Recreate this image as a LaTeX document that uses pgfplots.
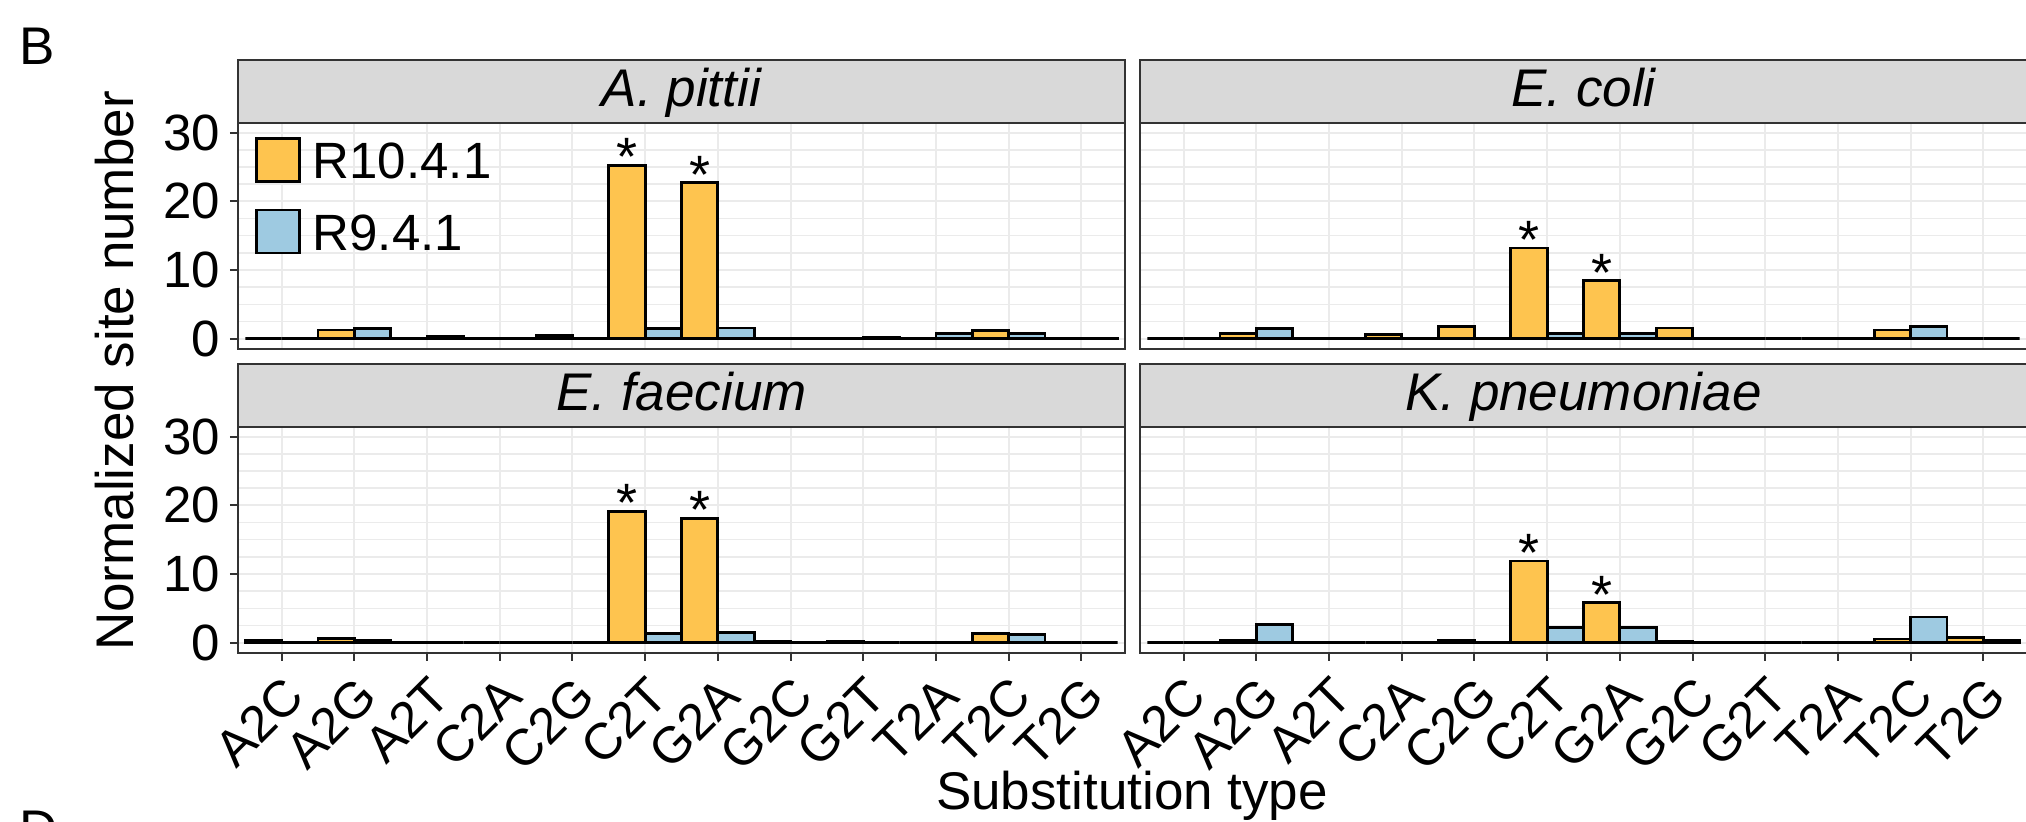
\documentclass[border=0pt]{standalone}
\usepackage{pgfplots}
\usepackage{pgfplotstable}
\usepackage{fontspec}
\setmainfont{Liberation Sans}
\pgfplotsset{compat=1.18}
\definecolor{orc}{HTML}{FEC44F}
\definecolor{blc}{HTML}{9ECAE1}
\definecolor{gridc}{HTML}{EBEBEB}
\definecolor{bordc}{HTML}{333333}
\definecolor{stripc}{HTML}{D9D9D9}

\pgfplotstableread{
x o b
1 0 0
2 1.25 1.45
3 0.05 0.3
4 0.1 0.1
5 0.45 0
6 25.2 1.5
7 22.7 1.55
8 0.1 0
9 0 0.25
10 0 0.75
11 1.15 0.75
12 0 0.1
}\tl
\pgfplotstableread{
x o b
1 0 0
2 0.75 1.45
3 0 0
4 0.6 0
5 1.75 0
6 13.2 0.8
7 8.45 0.8
8 1.55 0
9 0 0
10 0 0
11 1.25 1.8
12 0 0
}\tr
\pgfplotstableread{
x o b
1 0.35 0
2 0.65 0.4
3 0 0
4 0 0
5 0 0
6 19.1 1.35
7 18.1 1.5
8 0.2 0
9 0.15 0
10 0 0
11 1.3 1.15
12 0 0
}\bl
\pgfplotstableread{
x o b
1 0 0
2 0.35 2.7
3 0 0
4 0 0
5 0.35 0
6 11.9 2.2
7 5.8 2.2
8 0.15 0.05
9 0.1 0
10 0 0
11 0.55 3.75
12 0.8 0.35
}\br

\pgfplotsset{
  panel/.style={
    scale only axis, width=221.75pt, height=56.5pt,
    xmin=0.4, xmax=12.6, ymin=-1.5, ymax=31.4,
    xtick={1,...,12},
    ytick={0,10,20,30},
    yticklabels={0,10,20,30},
    minor ytick={2.5,5,7.5,12.5,15,17.5,22.5,25,27.5},
    xmajorgrids, ymajorgrids, yminorgrids,
    major grid style={color=gridc, line width=0.5pt},
    minor grid style={color=gridc, line width=0.4pt},
    axis line style={draw=bordc, line width=0.45pt},
    tick style={color=bordc, line width=0.5pt},
    tick align=outside,
    major tick length=2pt,
    minor tick length=0pt,
    ticklabel style={font=\fontsize{12.75}{14}\selectfont},
    yticklabel style={anchor=east, inner sep=0pt, xshift=-2.25pt},
    xticklabel style={yshift=-3pt, rotate=45, anchor=north east, inner sep=0pt, font=\fontsize{12.75}{14}\selectfont},
    /pgf/number format/assume math mode=true,
  },
  barO/.style={ybar, bar width=0.5, bar shift=-0.25, fill=orc, draw=black, line width=0.7pt,
    legend image code/.code={\draw[fill=orc, draw=black, line width=0.7pt] (0pt,-0.7pt) rectangle (10.75pt,10.05pt);}},
  barB/.style={ybar, bar width=0.5, bar shift=0.25, fill=blc, draw=black, line width=0.7pt,
    legend image code/.code={\draw[fill=blc, draw=black, line width=0.7pt] (0pt,-0.7pt) rectangle (10.75pt,10.05pt);}},
  star/.style={draw=none, nodes near coords={*},
    every node near coord/.append style={anchor=base, yshift=-2.6pt, inner sep=0pt, font=\fontsize{13.5}{15}\selectfont}},
}

\begin{document}
\begin{tikzpicture}
% top left
\begin{axis}[panel, name=tl, at={(59.5pt,118.25pt)}, anchor=south west,
  xtick pos=right, xticklabels={}, ytick pos=left,
  legend style={at={(0,1)}, anchor=north west, xshift=4.25pt, yshift=-3.5pt,
    draw=none, fill=none, inner sep=0pt, outer sep=0pt, row sep=6pt, column sep=3pt,
    font=\fontsize{12.75}{14}\selectfont, nodes={inner sep=0pt}, cells={anchor=base west}},
  ]
\addplot[barO] table[x=x,y=o]{\tl};
\addlegendentry{R10.4.1}
\addplot[barB] table[x=x,y=b]{\tl};
\addlegendentry{R9.4.1}
\addplot[star] coordinates {(5.75,25.2) (6.75,22.7)};
\end{axis}
% top right
\begin{axis}[panel, name=tr, at={(285pt,118.25pt)}, anchor=south west,
  major tick length=0pt, xticklabels={}, yticklabels={}]
\addplot[barO] table[x=x,y=o]{\tr};
\addplot[barB] table[x=x,y=b]{\tr};
\addplot[star] coordinates {(5.75,13.2) (6.75,8.45)};
\end{axis}
% bottom left
\begin{axis}[panel, name=bl, at={(59.5pt,42.25pt)}, anchor=south west,
  xtick pos=left, ytick pos=left,
  xticklabels={A2C,A2G,A2T,C2A,C2G,C2T,G2A,G2C,G2T,T2A,T2C,T2G}]
\addplot[barO] table[x=x,y=o]{\bl};
\addplot[barB] table[x=x,y=b]{\bl};
\addplot[star] coordinates {(5.75,19.1) (6.75,18.1)};
\end{axis}
% bottom right
\begin{axis}[panel, name=br, at={(285pt,42.25pt)}, anchor=south west,
  xtick pos=left, ytick pos=right, yticklabels={},
  xticklabels={A2C,A2G,A2T,C2A,C2G,C2T,G2A,G2C,G2T,T2A,T2C,T2G}]
\addplot[barO] table[x=x,y=o]{\br};
\addplot[barB] table[x=x,y=b]{\br};
\addplot[star] coordinates {(5.75,11.9) (6.75,5.8)};
\end{axis}
% strips
\foreach \ax/\lab in {tl/{A. pittii}, tr/{E. coli}, bl/{E. faecium}, br/{K. pneumoniae}} {
  \draw[fill=stripc, draw=bordc, line width=0.45pt] (\ax.north west) rectangle ([yshift=15.75pt]\ax.north east);
  \node[anchor=base, inner sep=0pt, font=\fontsize{13.25}{15}\selectfont\itshape] at ([yshift=4pt]\ax.north) {\lab};
}
\node[rotate=90, anchor=base, inner sep=0pt, font=\fontsize{13.25}{15}\selectfont] at (33.25pt,112.75pt) {Normalized site number};
\node[anchor=base, inner sep=0pt, font=\fontsize{13.25}{15}\selectfont] at (283pt,3pt) {Substitution type};
\node[anchor=base west, inner sep=0pt, font=\fontsize{13.25}{15}\selectfont] at (4.75pt,189.25pt) {B};
\node[anchor=base west, inner sep=0pt, font=\fontsize{13.25}{15}\selectfont] at (4.75pt,-6.5pt) {D};
\pgfresetboundingbox
\path[use as bounding box] (0pt,0pt) rectangle (506.5pt,205.5pt);
\end{tikzpicture}
\end{document}
